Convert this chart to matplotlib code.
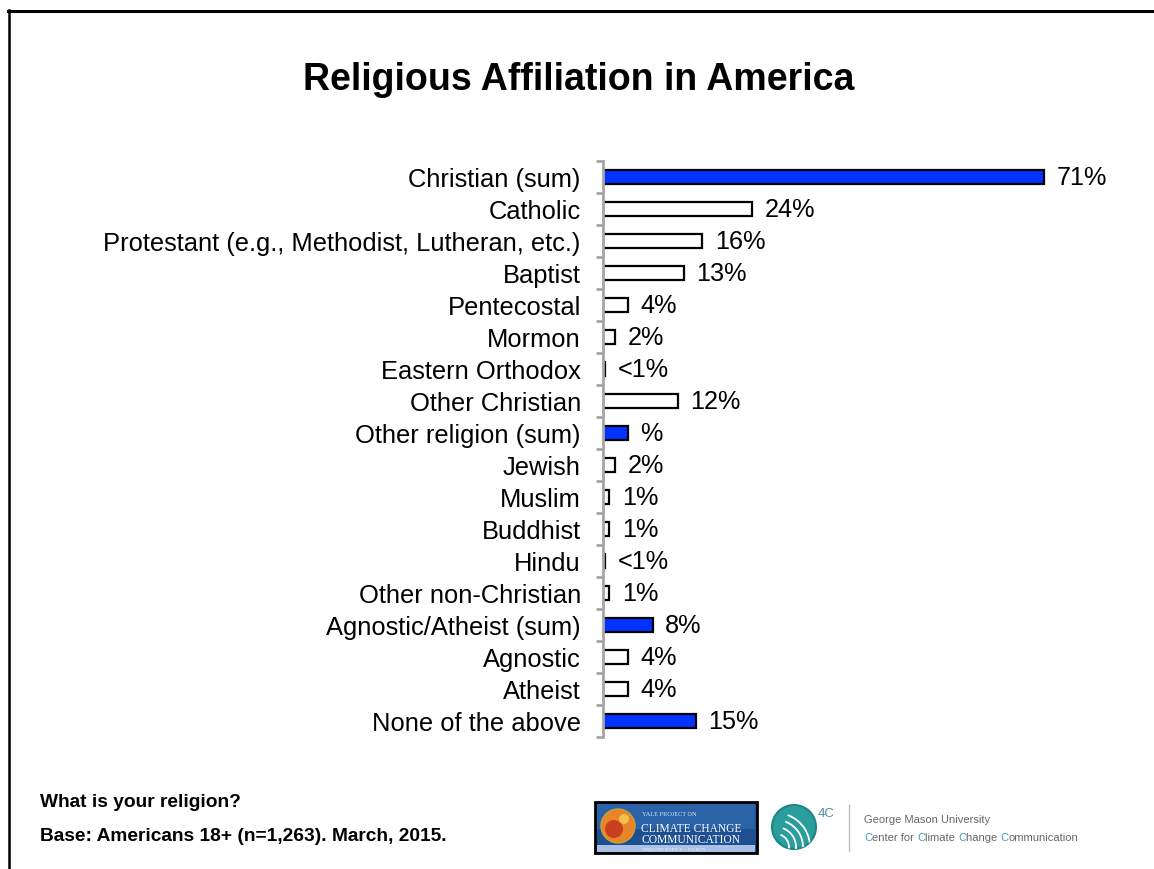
import numpy as np
import matplotlib.pyplot as plt
from matplotlib.patches import Rectangle, Circle, Arc
from matplotlib.lines import Line2D

plt.rcParams['font.family'] = ['Liberation Sans', 'DejaVu Sans']

#%% data

categories = ['Christian (sum)', 'Catholic',
              'Protestant (e.g., Methodist, Lutheran, etc.)', 'Baptist',
              'Pentecostal', 'Mormon', 'Eastern Orthodox', 'Other Christian',
              'Other religion (sum)', 'Jewish', 'Muslim', 'Buddhist', 'Hindu',
              'Other non-Christian', 'Agnostic/Atheist (sum)', 'Agnostic',
              'Atheist', 'None of the above']
values = [71, 24, 16, 13, 4, 2, 0.3, 12, 4, 2, 1, 1, 0.3, 1, 8, 4, 4, 15]
value_labels = ['71%', '24%', '16%', '13%', '4%', '2%', '<1%', '12%', '%',
                '2%', '1%', '1%', '<1%', '1%', '8%', '4%', '4%', '15%']
is_sum = [True, False, False, False, False, False, False, False, True,
          False, False, False, False, False, True, False, False, True]

#%% figure

W, H = 1154, 870
fig = plt.figure(figsize=(W / 100, H / 100), dpi=100)

def fx(px):
    return px / W

def fy(py):
    return 1 - py / H

# slide frame (top and left edges)
fig.add_artist(Line2D([fx(8), 1], [fy(12), fy(12)], color='black', lw=2.2))
fig.add_artist(Line2D([fx(8.5), fx(8.5)], [fy(11), 0], color='black', lw=1.8))

fig.text(fx(579), fy(80), 'Religious Affiliation in America', ha='center',
         va='center', fontsize=27, fontweight='bold')

#%% bars

ax = fig.add_axes([fx(603), fy(738), fx(497), (738 - 162) / H])
y = np.arange(len(categories))
colors = ['#0033ff' if s else 'white' for s in is_sum]
ax.barh(y, values, height=0.45, color=colors, edgecolor='black', lw=1.6)

for yi, v, lab in zip(y, values, value_labels):
    ax.text(v + 2.0, yi, lab, va='center', ha='left', fontsize=18.2)

ax.set_xlim(0, 80)
ax.set_ylim(len(categories) - 0.5, -0.5)
ax.set_yticks(y)
ax.set_yticklabels(categories, fontsize=18.4)
ax.tick_params(axis='y', which='major', length=0, pad=16)
ax.set_yticks(np.arange(len(categories) + 1) - 0.5, minor=True)
ax.tick_params(axis='y', which='minor', length=5, width=2, color='#a6a6a6')
ax.set_xticks([])
for s in ['top', 'right', 'bottom']:
    ax.spines[s].set_visible(False)
ax.spines['left'].set_color('#a6a6a6')
ax.spines['left'].set_linewidth(2)

#%% footer notes

fig.text(fx(40), fy(803), 'What is your religion?', fontsize=13.8,
         fontweight='bold', va='center')
fig.text(fx(40), fy(837), 'Base: Americans 18+ (n=1,263). March, 2015.',
         fontsize=13.8, fontweight='bold', va='center')

#%% logos

lg = fig.add_axes([0, 0, 1, 1], zorder=-1)
lg.set_xlim(0, W)
lg.set_ylim(H, 0)
lg.axis('off')

# Yale project box
lg.add_patch(Rectangle((595, 803), 162, 51, facecolor='#1d4f91',
                       edgecolor='black', lw=2))
lg.add_patch(Rectangle((597, 805), 158, 25, facecolor='#2a62a8', lw=0))
lg.add_patch(Rectangle((597, 846), 158, 7, facecolor='#a9bfe3', lw=0))
lg.add_patch(Circle((618, 827), 17, facecolor='#e8842a', edgecolor='#c9a03a',
                    lw=1))
lg.add_patch(Circle((614, 830), 9, facecolor='#c8401e', lw=0))
lg.add_patch(Circle((624, 820), 5, facecolor='#f1c14a', lw=0))
lg.text(642, 815, 'YALE PROJECT ON', family='Liberation Serif', fontsize=4.5,
        color='#dfe8f5', va='center')
lg.text(641, 829, 'CLIMATE CHANGE', family='Liberation Serif', fontsize=8.3,
        color='white', va='center')
lg.text(641, 840, 'COMMUNICATION', family='Liberation Serif', fontsize=8.3,
        color='white', va='center')
lg.text(643, 850, 'BRIDGING SCIENCE + SOCIETY', family='Liberation Serif',
        fontsize=3.2, color='#eef3fb', va='center')

# 4C emblem
disc = Circle((794, 828), 22, facecolor='#2a9d9d', edgecolor='#1f8585',
              lw=1.5)
lg.add_patch(disc)
for r in [34, 27, 20, 13]:
    arc = Arc((776, 848), 2 * r, 2 * r, theta1=290, theta2=80, color='white',
              lw=1.3)
    lg.add_patch(arc)
    arc.set_clip_path(disc)
lg.text(818, 814, '4C', fontsize=9.5, color='#4a8f9a', va='center')
lg.plot([849, 849], [806, 852], color='#bdbdbd', lw=1)

lg.text(864, 820, 'George Mason University', fontsize=8, color='#666666',
        va='center')

# second line with teal initials
teal, grey = '#3aa4b0', '#666666'
pieces = [('C', teal), ('enter for ', grey), ('C', teal), ('limate ', grey),
          ('C', teal), ('hange ', grey), ('C', teal), ('ommunication', grey)]
prev = lg.text(864, 843, pieces[0][0], fontsize=8, color=pieces[0][1],
               va='bottom')
for txt, c in pieces[1:]:
    prev = lg.annotate(txt, xy=(1, 0), xycoords=prev, fontsize=8, color=c,
                       va='bottom')

fig.savefig('out.png', dpi=100)
